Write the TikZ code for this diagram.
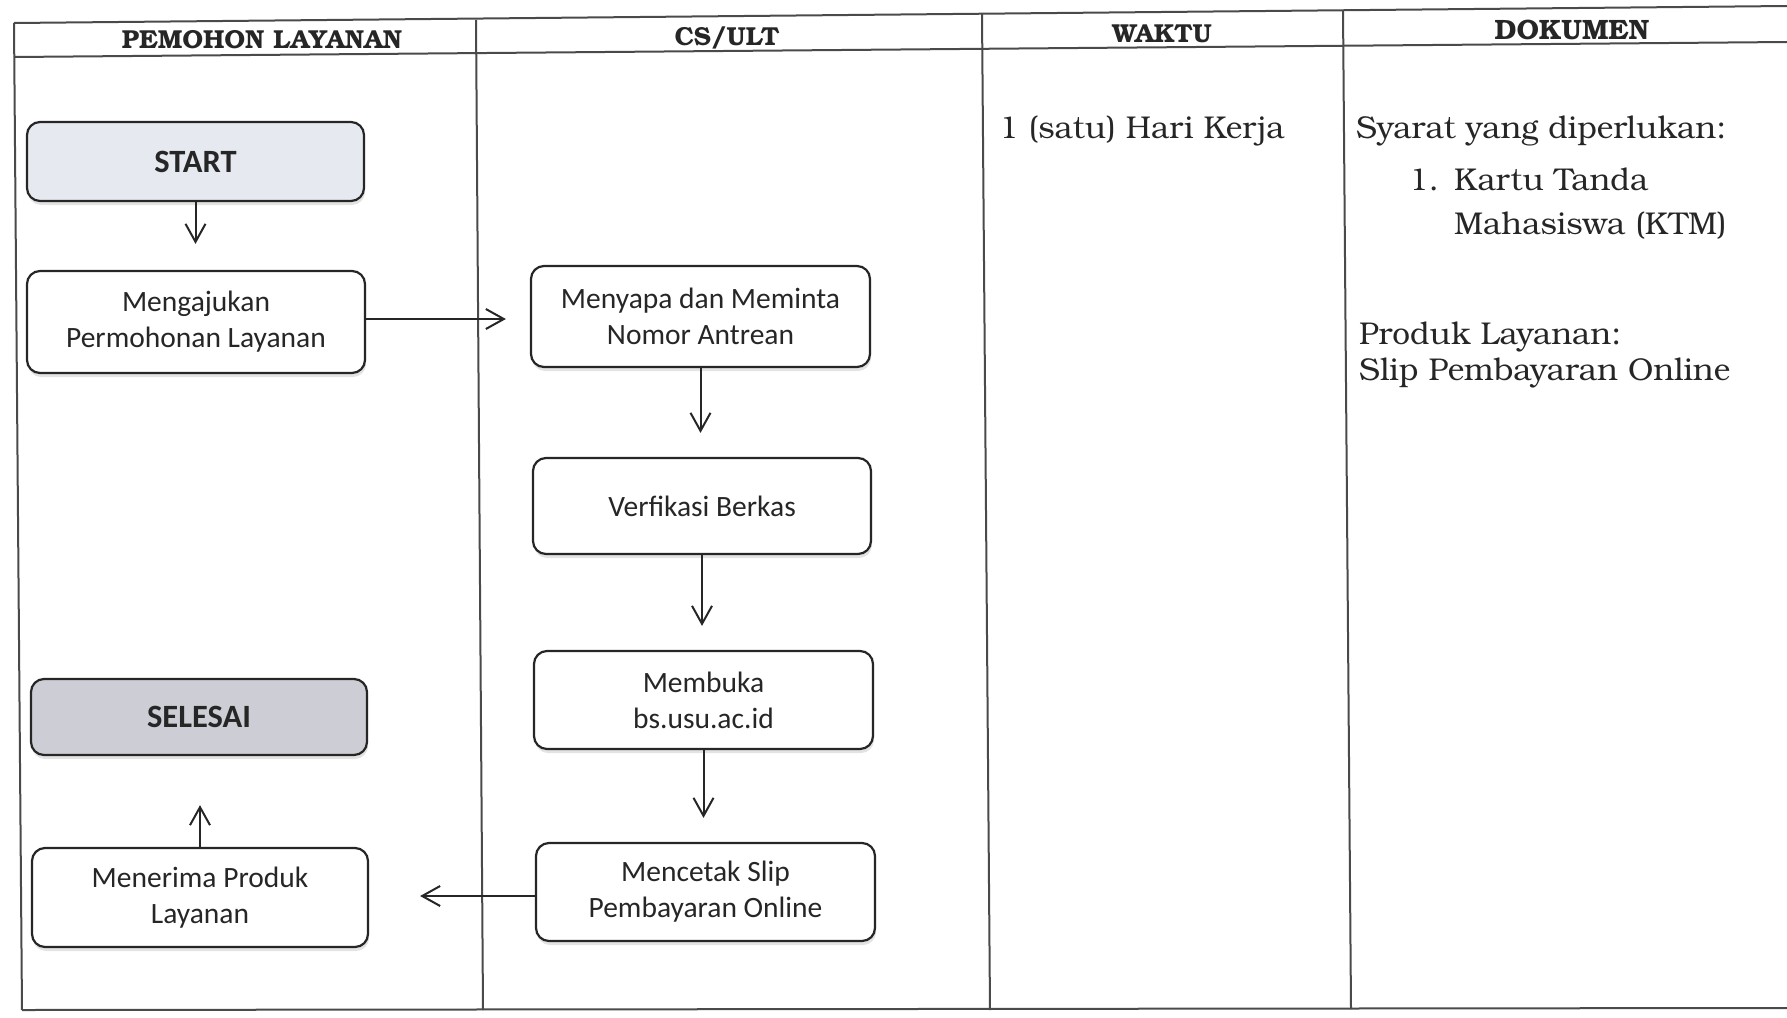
\documentclass[tikz,border=0pt]{standalone}
\usepackage{fontspec}
\setmainfont{TeX Gyre Bonum}
\newfontfamily\boxfont{Carlito}
\usetikzlibrary{arrows.meta,shadows}

\definecolor{ink}{HTML}{262626}
\definecolor{rule}{HTML}{4A4A4A}
\definecolor{startfill}{HTML}{E6E9EF}
\definecolor{endfill}{HTML}{CDCED5}

\tikzset{
  grid/.style={draw=rule, line width=2pt},
  head/.style={font=\bfseries\fontsize{26}{30}\selectfont, text=ink, inner sep=0pt},
  note/.style={font=\fontsize{31.5}{36}\selectfont, text=ink, inner sep=0pt, anchor=base west},
  proc/.style={draw=ink, line width=2.2pt, rounded corners=13pt, fill=white,
    minimum width=338pt, minimum height=98pt, align=center, inner sep=0pt,
    font=\boxfont\fontsize{29.5}{36}\selectfont, text=ink,
    drop shadow={opacity=0.22, shadow xshift=1pt, shadow yshift=-4pt}},
  term/.style={proc, font=\boxfont\bfseries\fontsize{32.5}{36}\selectfont},
  flow/.style={draw=ink, line width=2pt, -{Straight Barb[length=18pt,width=20pt,line width=2pt]}}
}

\begin{document}
\begin{tikzpicture}[x=1pt,y=-1pt]
\useasboundingbox (0,0) rectangle (1787,1017);

% table frame
\coordinate (tl) at (14,23);   \coordinate (tr) at (1787,6);
\coordinate (hl) at (14,57);   \coordinate (hr) at (1787,42);
\coordinate (bl) at (22,1010); \coordinate (br) at (1787,1008);
\draw[grid] (tl) -- (tr);
\draw[grid] (hl) -- (hr);
\draw[grid] (bl) -- (br);
\draw[grid] (tl) -- (bl);
\coordinate (c1t) at (476,20);  \coordinate (c1b) at (483,1010);
\coordinate (c2t) at (982,14);  \coordinate (c2b) at (990,1010);
\coordinate (c3t) at (1343,10); \coordinate (c3b) at (1351,1009);
\draw[grid] (c1t) -- (c1b);
\draw[grid] (c2t) -- (c2b);
\draw[grid] (c3t) -- (c3b);

% column headings
\node[head] (h1) at (262,40) {PEMOHON LAYANAN};
\node[head] (h2) at (727,38) {CS/ULT};
\node[head] (h3) at (1162,34) {WAKTU};
\node[head, font=\bfseries\fontsize{28}{32}\selectfont] (h4) at (1572,30) {DOKUMEN};

% flow boxes
\node[term, fill=startfill, minimum height=79pt, minimum width=337pt] (start) at (195.5,161.5) {START};
\node[proc, minimum height=102pt] (ajukan) at (196,322) {Mengajukan\\Permohonan Layanan};
\node[proc, minimum height=101pt, minimum width=339pt] (sapa) at (700.5,316.5) {Menyapa dan Meminta\\Nomor Antrean};
\node[proc, minimum height=96pt] (verif) at (702,506) {Verfikasi Berkas};
\node[proc, minimum width=339pt] (buka) at (703.5,700) {Membuka\\bs.usu.ac.id};
\node[proc, minimum width=339pt] (cetak) at (705.5,892) {Mencetak Slip\\Pembayaran Online};
\node[term, fill=endfill, minimum height=76pt, minimum width=336pt] (selesai) at (199,717) {SELESAI};
\node[proc, minimum height=99pt, minimum width=336pt] (terima) at (200,897.5) {Menerima Produk\\Layanan};

% connectors
\draw[flow, shorten >=26pt] (start.south) -- (start.south |- ajukan.north);
\draw[flow, shorten >=24pt] ([yshift=3pt]ajukan.east) -- ([yshift=3pt]ajukan.east -| sapa.west);
\draw[flow, shorten >=24pt] (sapa.south) -- (sapa.south |- verif.north);
\draw[flow, shorten >=24pt] (verif.south) -- (verif.south |- buka.north);
\draw[flow, shorten >=24pt] (buka.south) -- (buka.south |- cetak.north);
\draw[flow, shorten >=51pt] ([yshift=-4pt]cetak.west) -- ([yshift=-4pt]cetak.west -| terima.east);
\draw[flow, shorten >=49pt] (terima.north) -- (terima.north |- selesai.south);

% time and documents
\node[note] (waktu) at (999,138) {1 (satu) Hari Kerja};
\node[note] (syarat) at (1356,138) {Syarat yang diperlukan:};
\node[note] (num) at (1409,190) {1.};
\node[note] (ktm1) at (1454,190) {Kartu Tanda};
\node[note] (ktm2) at (1454,234) {Mahasiswa (KTM)};
\node[note] (produk) at (1359,344) {Produk Layanan:};
\node[note] (slip) at (1359,380) {Slip Pembayaran Online};
\end{tikzpicture}
\end{document}
